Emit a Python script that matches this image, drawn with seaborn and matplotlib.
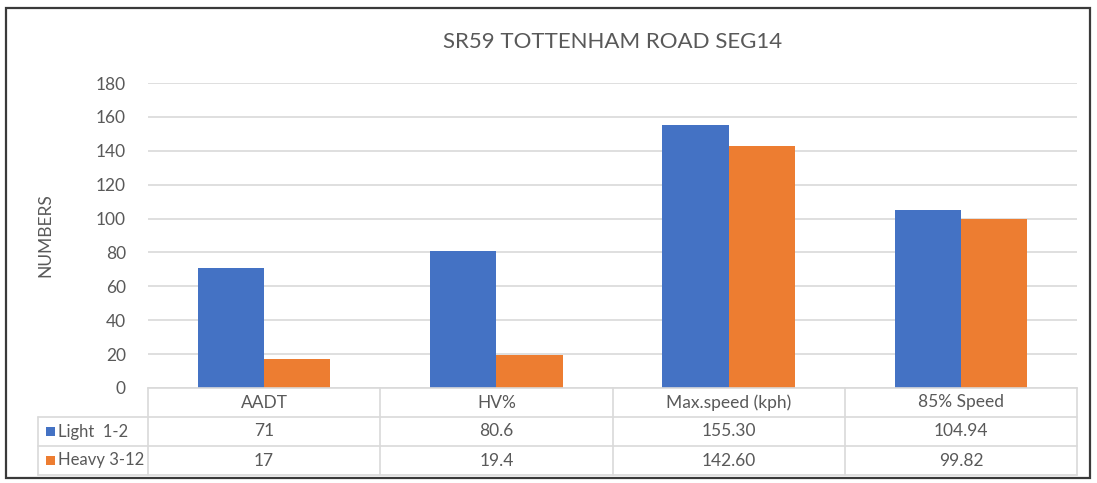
"""
SR59 Tottenham Road SEG14 - bar chart with data table
"""
import matplotlib
matplotlib.use('Agg')
import matplotlib.pyplot as plt
from matplotlib.patches import Rectangle
import seaborn as sns
import pandas as pd

metrics = ['AADT', 'HV%', 'Max.speed (kph)', '85% Speed']
series = ['Light  1-2', 'Heavy 3-12']
light = [71, 80.6, 155.30, 104.94]
heavy = [17, 19.4, 142.60, 99.82]
light_txt = ['71', '80.6', '155.30', '104.94']
heavy_txt = ['17', '19.4', '142.60', '99.82']
yticks = [0, 20, 40, 60, 80, 100, 120, 140, 160, 180]

BLUE = '#4472C4'
ORANGE = '#ED7D31'
TXT = '#595959'
GRID = '#D9D9D9'

df = pd.DataFrame({
    'metric': metrics * 2,
    'value': light + heavy,
    'series': [series[0]] * 4 + [series[1]] * 4,
})

sns.set_style('white')
plt.rcParams['font.family'] = ['Lato', 'DejaVu Sans']

W, H = 1097, 483
fig = plt.figure(figsize=(W / 100, H / 100), dpi=100)

# plot area in pixels (from reference)
left, right, y0, y180 = 148, 1077, 388, 83
ax = fig.add_axes([left / W, (H - y0) / H, (right - left) / W, (y0 - y180) / H])

sns.barplot(data=df, x='metric', y='value', hue='series', order=metrics,
            hue_order=series, palette=[BLUE, ORANGE], width=0.57, gap=0,
            saturation=1, legend=False, linewidth=0, edgecolor='none', ax=ax)

ax.set_xlim(-0.5, 3.5)
ax.set_ylim(0, 180)
ax.set_yticks(yticks)
ax.set_yticklabels([str(t) for t in yticks], color=TXT, fontsize=12.5)
ax.tick_params(axis='y', length=0, pad=16)
ax.set_xticks([])
ax.set_xlabel('')
ax.set_ylabel('')
ax.grid(True, axis='y', color=GRID, linewidth=1.2)
ax.set_axisbelow(True)
for s in ['top', 'right', 'left']:
    ax.spines[s].set_visible(False)
ax.spines['bottom'].set_color(GRID)
ax.spines['bottom'].set_linewidth(1.2)

# title and y label
fig.text((left + right) / 2 / W, (H - 42) / H, 'SR59 TOTTENHAM ROAD SEG14',
         ha='center', va='center', fontsize=16, color=TXT)
fig.text(45 / W, (H - 235) / H, 'NUMBERS', rotation=90, ha='center',
         va='center', fontsize=12.5, color=TXT)

# data table below the axis
tr = ax.get_xaxis_transform()
row_h = 29 / (y0 - y180)
x_lab = -0.5 - (left - 38) / ((right - left) / 4)
n_rows = 3
bottom = -n_rows * row_h
line_kw = dict(color=GRID, linewidth=1.2, transform=tr, clip_on=False)
for xv in [-0.5, 0.5, 1.5, 2.5, 3.5]:
    ax.plot([xv, xv], [0, bottom], **line_kw)
ax.plot([x_lab, x_lab], [-row_h, bottom], **line_kw)
for r in [1, 2, 3]:
    ax.plot([x_lab, 3.5], [-r * row_h, -r * row_h], **line_kw)

for i, m in enumerate(metrics):
    ax.text(i, -0.5 * row_h, m, transform=tr, ha='center', va='center',
            fontsize=12.5, color=TXT, clip_on=False)
    ax.text(i, -1.5 * row_h, light_txt[i], transform=tr, ha='center',
            va='center', fontsize=12.5, color=TXT, clip_on=False)
    ax.text(i, -2.5 * row_h, heavy_txt[i], transform=tr, ha='center',
            va='center', fontsize=12.5, color=TXT, clip_on=False)

px_x = 4 / (right - left)
px_y = 1 / (y0 - y180)
for r, (name, col) in enumerate(zip(series, [BLUE, ORANGE])):
    yc = -(1.5 + r) * row_h
    sq_x = -0.5 - (left - 46) * px_x
    ax.add_patch(Rectangle((sq_x, yc - 4.5 * px_y), 9 * px_x, 9 * px_y,
                           facecolor=col, edgecolor='none', transform=tr,
                           clip_on=False))
    ax.text(-0.5 - (left - 58) * px_x, yc, name, transform=tr, ha='left',
            va='center', fontsize=12, color=TXT, clip_on=False)

# outer chart border
fig.patches.append(Rectangle((6 / W, 5 / H), 1084 / W, 470 / H, fill=False,
                             edgecolor='#3A3A3A', linewidth=1.6,
                             transform=fig.transFigure))

fig.savefig('out.png', dpi=100)
plt.close(fig)
